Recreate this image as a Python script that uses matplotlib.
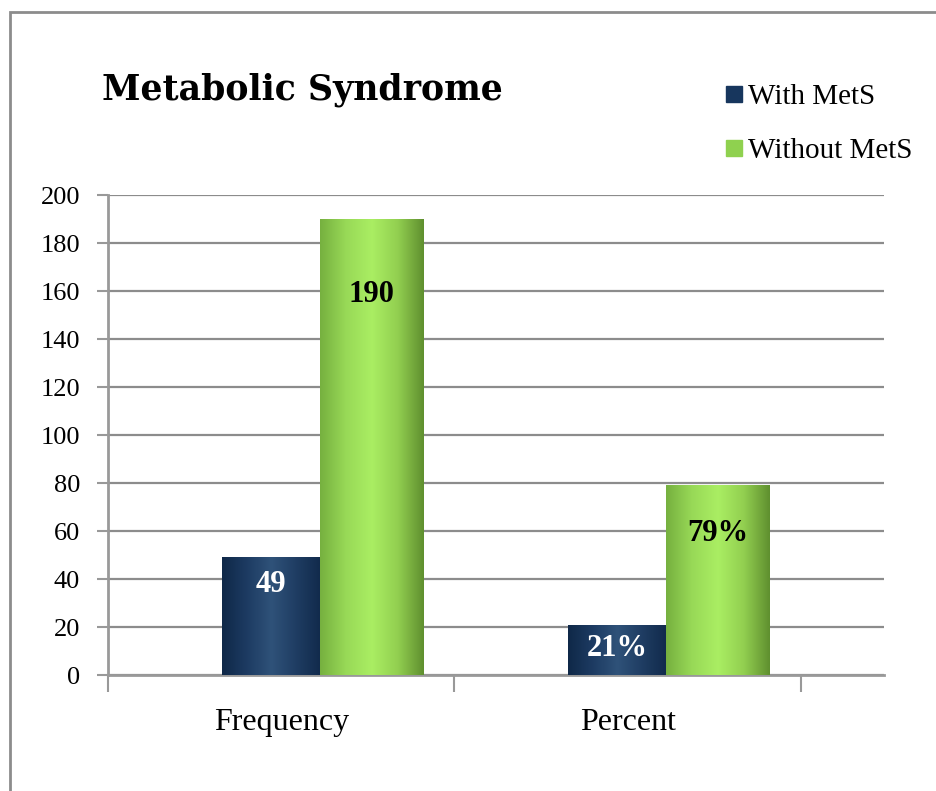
import numpy as np
import matplotlib
matplotlib.use("Agg")
import matplotlib.pyplot as plt
from matplotlib.colors import LinearSegmentedColormap
from matplotlib.lines import Line2D
from matplotlib.patches import Rectangle

categories = ["Frequency", "Percent"]
series_names = ["With MetS", "Without MetS"]
with_mets = [49, 21]
without_mets = [190, 79]
value_labels = [["49", "21%"], ["190", "79%"]]
y_ticks = [0, 20, 40, 60, 80, 100, 120, 140, 160, 180, 200]

plt.rcParams["font.family"] = ["Liberation Serif", "DejaVu Serif"]

# цилиндрическая заливка столбцов, как в Excel
blue_cmap = LinearSegmentedColormap.from_list(
    "blue", ["#0f2848", "#1d3b62", "#2f5279", "#1f3d63", "#112a4b"])
green_cmap = LinearSegmentedColormap.from_list(
    "green", ["#76b03f", "#98d957", "#aaee63", "#92cf50", "#5f8f2f"])
edge_colors = ["#17365d", "#8fd14f"]

fig = plt.figure(figsize=(9.37, 7.91), dpi=100)
ax = fig.add_axes([108 / 937, 1 - 675 / 791, (884 - 108) / 937, (675 - 195) / 791])

x = np.arange(len(categories))
widths = [0.283, 0.30]
offsets = [-0.03, -0.03 + widths[0] / 2 + widths[1] / 2]  # пара столбцов сдвинута вправо
grad = np.linspace(0, 1, 256).reshape(1, -1)

# смещения подписей вниз от вершины (пиксели)
label_drop = [[27, 24], [76, 48]]
label_colors = ["white", "black"]

for s, (vals, cmap) in enumerate([(with_mets, blue_cmap), (without_mets, green_cmap)]):
    bars = ax.bar(x + offsets[s], vals, widths[s], color=edge_colors[s], zorder=2)
    for i, b in enumerate(bars):
        x0, w, h = b.get_x(), b.get_width(), b.get_height()
        im = ax.imshow(grad, cmap=cmap, extent=(x0, x0 + w, 0, h),
                       aspect="auto", zorder=3, interpolation="bicubic")
        im.set_clip_path(b)
        ax.annotate(value_labels[s][i], (x0 + w / 2, h), xytext=(0, -label_drop[s][i]),
                    textcoords="offset pixels", ha="center", va="center",
                    fontsize=22, fontweight="bold", color=label_colors[s], zorder=4)

ax.set_xlim(-0.5, 1.74)
ax.set_ylim(0, 200)
ax.set_yticks(y_ticks)
ax.tick_params(axis="y", labelsize=19, length=8, width=1.5, color="#999999", pad=12)
ax.set_xticks([-0.5, 0.5, 1.5])
ax.set_xticklabels([])
ax.tick_params(axis="x", which="major", length=12, width=1.5, color="#999999", direction="out")
ax.set_xticks(x, minor=True)
ax.set_xticklabels(categories, minor=True, fontsize=23)
ax.tick_params(axis="x", which="minor", length=0, pad=24)

ax.grid(axis="y", color="#8c8c8c", linewidth=1.6, zorder=0)
ax.set_axisbelow(True)
for side in ["top", "right"]:
    ax.spines[side].set_visible(False)
for side in ["left", "bottom"]:
    ax.spines[side].set_color("#999999")
    ax.spines[side].set_linewidth(2)

fig.text(102 / 937, 1 - 90 / 791, "Metabolic Syndrome", fontsize=25, fontweight="bold",
         family="DejaVu Serif", va="center", ha="left")

handles = [Line2D([], [], marker="s", linestyle="none", markersize=12, color="#17365d"),
           Line2D([], [], marker="s", linestyle="none", markersize=12, color="#8fd14f")]
fig.legend(handles, series_names, loc="upper left", bbox_to_anchor=(712 / 937, 1 - 72 / 791),
           frameon=False, fontsize=21, handlelength=0.7, handletextpad=0.15,
           labelspacing=0.95, borderaxespad=0)

# рамка вокруг области диаграммы
fig.add_artist(Rectangle((10 / 937, -0.1), 1.2, 1.1 - 12 / 791, transform=fig.transFigure,
                         fill=False, edgecolor="#8c8c8c", linewidth=2))

fig.savefig("out.png", dpi=100)
